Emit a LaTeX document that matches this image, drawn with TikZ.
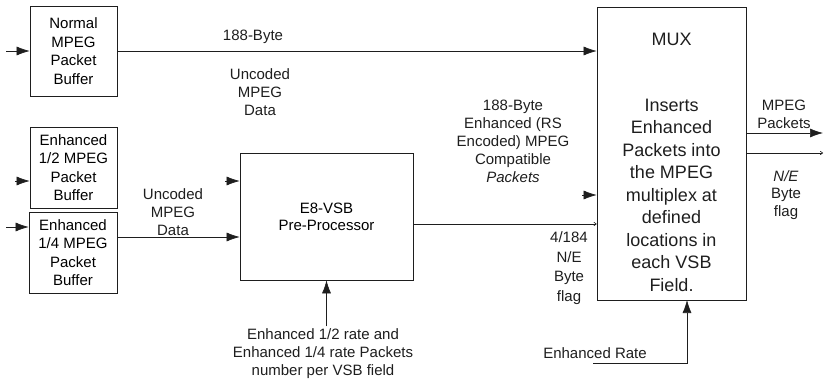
\documentclass[tikz,border=0pt]{standalone}
\usepackage{fontspec}
\setmainfont{Liberation Sans}
\usetikzlibrary{arrows.meta}
\definecolor{inkgray}{RGB}{30,30,30}

\begin{document}
\begin{tikzpicture}[
    x=1pt, y=-1pt,
    block/.style={draw=inkgray, line width=0.7pt, minimum width=#1, inner sep=0pt, align=center, font=\fontsize{15}{18.5}\selectfont},
    lbl/.style={align=center, inner sep=2pt, text=inkgray, font=\fontsize{15}{18}\selectfont},
    arrow/.style={-{Latex[length=13pt,width=9pt]}, line width=0.6pt, inkgray},
    tiparrow/.style={-{To[length=3pt,width=4pt]}, line width=0.6pt, inkgray}
]
\useasboundingbox (0,0) rectangle (824,382);

% buffers
\node[block=87pt, minimum height=90pt] (normal) at (73.5,51) {Normal\\MPEG\\Packet\\Buffer};
\node[block=87pt, minimum height=81pt] (enhhalf) at (73.5,167.5) {Enhanced\\1/2 MPEG\\Packet\\Buffer};
\node[block=88pt, minimum height=81pt] (enhquarter) at (73,252.5) {Enhanced\\1/4 MPEG\\Packet\\Buffer};

% processing blocks
\node[block=173pt, minimum height=127pt, font=\fontsize{15}{17}\selectfont] (pre) at (326.5,216.5) {E8-VSB\\Pre-Processor};
\node[block=149pt, minimum height=293pt] (mux) at (671.5,153.5) {};
\node[lbl, font=\fontsize{18}{22.5}\selectfont] (muxtitle) at (671.5,39) {MUX};
\node[lbl, font=\fontsize{18}{22.5}\selectfont] (muxbody) at (671.5,195) {Inserts\\Enhanced\\Packets into\\the MPEG\\multiplex at\\defined\\locations in\\each VSB\\Field.};

% free ends
\coordinate (innormal) at (6,51);
\coordinate (inhalf) at (15,181);
\coordinate (inquarter) at (6,227);
\coordinate (quarterout) at (117,237);
\coordinate (prestub) at (225,181);
\coordinate (muxstub) at (582,195);
\coordinate (preout) at (413,224);
\coordinate (ratein) at (593,363);
\coordinate (rateup) at (687,300);
\coordinate (outpk) at (823,133);
\coordinate (outflag) at (823,153);

\draw[arrow] (innormal) -- (normal.west);
\draw[arrow] (inhalf) -- (inhalf -| enhhalf.west);
\draw[arrow] (inquarter) -- (inquarter -| enhquarter.west);
\draw[arrow] (normal.east) -- (normal.east -| mux.west);
\draw[arrow] (quarterout) -- (quarterout -| pre.west);
\draw[arrow] (prestub) -- (prestub -| pre.west);
\draw[arrow] (muxstub) -- (muxstub -| mux.west);
\draw[tiparrow] (preout) -- (preout -| mux.west);
\draw[arrow] (mux.east |- outpk) -- (outpk);
\draw[tiparrow] (mux.east |- outflag) -- (outflag);
\draw[arrow] (ratein) -| (rateup);

% annotations
\node[lbl] (bytelbl) at (253,37) {188-Byte};
\node[lbl] (uncodedtop) at (260,92) {Uncoded\\MPEG\\Data};
\node[lbl] (uncodedleft) at (173,212) {Uncoded\\MPEG\\Data};
\node[lbl] (rslbl) at (513,141) {188-Byte\\Enhanced (RS\\Encoded) MPEG\\Compatible\\\textit{Packets}};
\node[lbl, font=\fontsize{15}{19.7}\selectfont] (flagin) at (569,268) {4/184\\N/E\\Byte\\flag};
\node[lbl] (pktlbl) at (784,114) {MPEG\\Packets};
\node[lbl, font=\fontsize{15}{17.5}\selectfont] (flagout) at (786,195) {\textit{N/E}\\Byte\\flag};
\node[lbl] (rates) at (323,353.5) {Enhanced 1/2 rate and\\Enhanced 1/4 rate Packets\\number per VSB field};
\node[lbl] (ratelbl) at (595,353) {Enhanced Rate};

\draw[arrow] (pre.south |- rates.north) -- (pre.south);
\end{tikzpicture}
\end{document}
